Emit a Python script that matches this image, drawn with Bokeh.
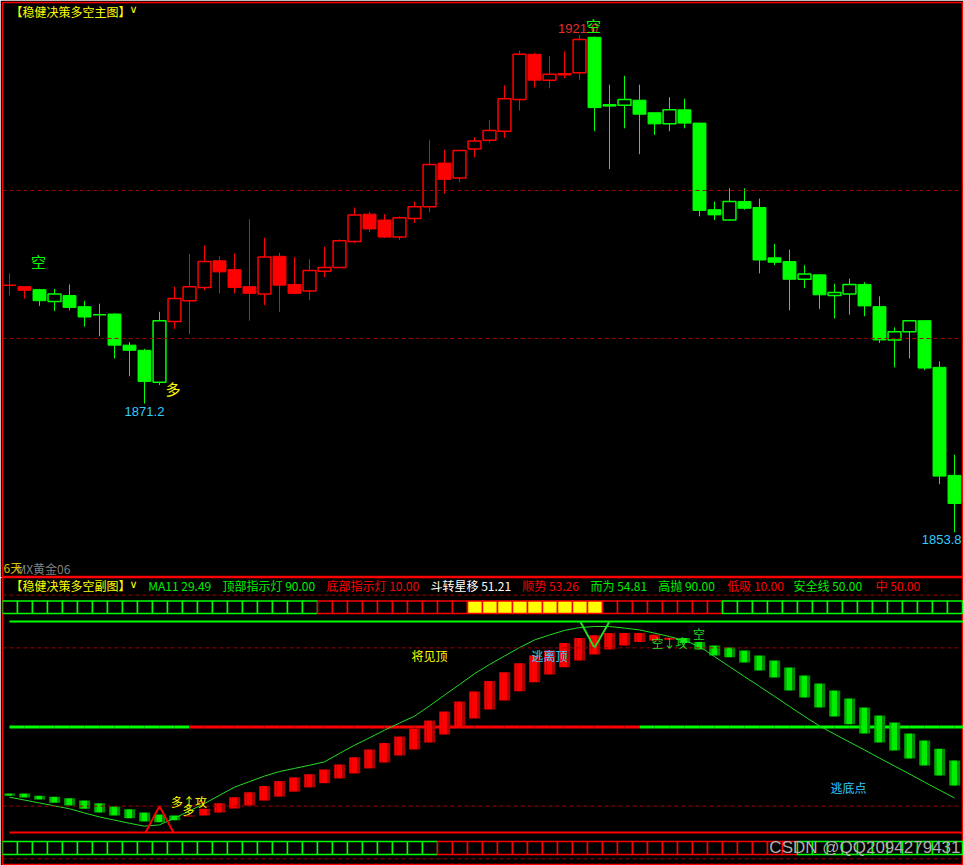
from bokeh.plotting import figure
from bokeh.layouts import column
from bokeh.models import Range1d, ColumnDataSource, Label, Span
from bokeh.embed import file_html
from bokeh.resources import INLINE

CJK = "Noto Sans CJK SC"
LAT = "Liberation Sans"

# ---------------- price bars (one per session) ----------------
opens = [1887.2, 1887.0, 1886.6, 1885.0, 1885.8, 1884.3, 1883.2, 1883.3, 1879.1, 1878.4,
         1874.1, 1882.3, 1885.1, 1886.9, 1890.5, 1889.3, 1887.0, 1886.0, 1891.1, 1887.3,
         1886.4, 1889.1, 1889.6, 1893.1, 1896.8, 1896.0, 1893.7, 1896.2, 1897.8, 1903.7,
         1901.7, 1905.6, 1906.8, 1908.0, 1912.3, 1918.4, 1914.9, 1915.8, 1915.9, 1920.7,
         1911.6, 1911.5, 1912.2, 1910.5, 1909.0, 1910.9, 1909.1, 1897.4, 1896.0, 1898.5,
         1897.7, 1890.9, 1890.4, 1888.0, 1888.6, 1885.8, 1886.0, 1887.3, 1884.3, 1879.8,
         1880.9, 1882.4, 1876.1, 1861.5]
highs = [1888.8, 1887.0, 1886.7, 1886.7, 1887.3, 1885.1, 1884.7, 1883.4, 1879.5, 1878.6,
         1883.6, 1887.0, 1891.4, 1892.6, 1891.1, 1891.5, 1896.1, 1893.6, 1891.6, 1891.0,
         1890.7, 1892.4, 1893.4, 1897.7, 1897.1, 1896.8, 1896.5, 1898.5, 1906.8, 1905.5,
         1905.5, 1907.2, 1909.5, 1914.2, 1918.9, 1918.6, 1918.2, 1918.8, 1921.0, 1920.8,
         1914.3, 1915.5, 1914.3, 1910.5, 1912.6, 1912.4, 1909.1, 1898.5, 1900.3, 1900.3,
         1898.9, 1892.8, 1892.0, 1889.9, 1888.7, 1887.4, 1888.1, 1887.6, 1885.7, 1881.5,
         1882.4, 1882.4, 1876.9, 1864.3]
lows = [1885.8, 1885.4, 1884.4, 1883.7, 1883.8, 1881.6, 1880.3, 1877.3, 1874.9, 1871.2,
        1873.7, 1881.3, 1880.6, 1886.5, 1886.1, 1886.1, 1882.4, 1884.5, 1883.6, 1886.0,
        1885.2, 1888.3, 1889.5, 1892.9, 1894.4, 1893.6, 1893.3, 1895.6, 1897.1, 1899.6,
        1901.1, 1904.5, 1906.5, 1907.1, 1910.8, 1913.9, 1913.8, 1915.2, 1914.9, 1908.0,
        1902.9, 1908.4, 1904.9, 1907.5, 1908.0, 1908.4, 1896.5, 1896.0, 1895.9, 1897.4,
        1888.8, 1889.9, 1883.8, 1886.8, 1884.0, 1882.7, 1883.2, 1883.0, 1879.4, 1876.1,
        1877.3, 1875.7, 1860.3, 1853.8]
closes = [1887.2, 1886.5, 1885.1, 1886.0, 1884.2, 1882.9, 1883.2, 1879.1, 1878.4, 1874.2,
          1882.4, 1885.4, 1887.0, 1890.4, 1889.0, 1886.9, 1886.1, 1891.0, 1887.2, 1886.1,
          1889.2, 1889.6, 1893.2, 1896.7, 1894.8, 1893.7, 1896.3, 1897.8, 1903.5, 1901.5,
          1905.4, 1906.7, 1908.1, 1912.4, 1918.4, 1914.9, 1915.7, 1915.6, 1920.4, 1911.2,
          1911.4, 1912.3, 1910.3, 1909.0, 1910.9, 1909.1, 1897.3, 1896.7, 1898.5, 1897.6,
          1890.6, 1890.3, 1888.0, 1888.7, 1885.9, 1886.2, 1887.3, 1884.4, 1879.8, 1880.9,
          1882.4, 1876.0, 1861.4, 1857.7]
# trend state that colours each bar: R = long, G = short
bar_trend = list("RRGGGGGGGGG" + "R" * 28 + "G" * 25)

# ---------------- oscillator panel ----------------
osc_fast = [23.9, 23.3, 22.5, 21.3, 20.2, 19.0, 17.6, 16.4, 15.4, 14.2, 13.9, 14.6, 16.4, 19.0,
            21.1, 23.4, 25.3, 27.6, 29.5, 30.9, 32.1, 33.9, 35.8, 38.5, 41.5, 43.9, 46.4, 49.3,
            52.5, 55.9, 59.7, 63.5, 67.4, 70.8, 74.2, 77.1, 79.0, 81.8, 83.7, 84.8, 85.6, 85.6,
            85.6, 85.0, 83.8, 81.8, 79.4, 77.1, 76.4, 74.5, 71.4, 68.8, 63.8, 61.2, 57.4, 54.0,
            51.0, 47.5, 44.1, 41.1, 38.1, 35.4, 31.6, 27.8]
osc_slow = [24.8, 24.8, 23.9, 23.6, 23.0, 22.1, 21.1, 19.9, 18.8, 17.6, 16.8, 16.4, 16.1, 16.4,
            17.6, 19.1, 20.2, 22.1, 23.6, 25.5, 27.1, 28.7, 30.5, 32.4, 34.3, 36.5, 39.2, 41.5,
            44.1, 47.2, 50.2, 53.2, 56.6, 60.0, 63.6, 67.0, 69.9, 72.7, 75.2, 77.5, 79.4, 80.9,
            82.2, 82.8, 83.1, 83.7, 82.2, 80.9, 80.1, 79.0, 77.1, 75.2, 72.6, 69.5, 66.5, 63.8,
            60.8, 57.4, 54.4, 51.7, 47.5, 44.9, 41.8, 37.3]
ma11 = [23.4, 22.3, 21.2, 20.1, 19.0, 17.4, 15.9, 14.7, 13.5, 12.4, 12.9, 15.4, 18.2, 21.0,
        24.1, 27.2, 29.3, 31.4, 33.1, 34.3, 35.5, 36.8, 40.0, 43.1, 45.9, 48.8, 51.5, 54.1,
        58.0, 62.1, 66.1, 70.2, 73.7, 76.9, 80.1, 83.0, 84.9, 86.6, 87.7, 88.1, 88.1, 87.5,
        86.8, 85.6, 84.3, 82.8, 80.5, 76.7, 72.9, 69.1, 65.4, 61.6, 57.8, 54.0, 50.4, 47.3,
        44.3, 41.3, 38.2, 35.2, 32.2, 29.1, 26.1, 23.1]
mid_state = list("G" * 12 + "R" * 30 + "G" * 22)          # colour of the 50 line
top_lamp = list("G" * 21 + "R" * 10 + "Y" * 9 + "R" * 8 + "G" * 16)
bottom_lamp = list("G" * 29 + "R" * 24 + "G" * 11)
levels_solid = {"top": 90, "bottom": 10, "mid": 50}
levels_dashed = [100, 80, 20, 0]
top_lamp_band = (93.0, 97.8)
bottom_lamp_band = (1.7, 6.6)
sell_signal = {"i": 39, "from": 90, "to": 80}
buy_signal = {"i": 10, "from": 10, "to": 20}

n = len(opens)
idx = list(range(n))
X_RANGE = (-0.4667, 63.6)

RED, GREEN, YELLOW = "#ff0000", "#00ff00", "#ffff00"
DASH_RED = "#a00000"
CYAN = "#33ccff"


def base_fig(h, yr, top_border):
    f = figure(width=963, height=h, x_range=Range1d(*X_RANGE), y_range=Range1d(*yr),
               output_backend="svg", toolbar_location=None,
               x_axis_location=None, y_axis_location=None,
               min_border_left=2, min_border_right=0, min_border_top=top_border,
               min_border_bottom=0, background_fill_color="black",
               border_fill_color="black", outline_line_color=RED, outline_line_width=1.5)
    f.grid.visible = False
    return f


def px(x):
    return (x - 9) / 15.0


def label(f, x, y, text, color, size="12px", font=CJK, align="left", base="middle"):
    f.add_layout(Label(x=x, y=y, text=text, text_color=color, text_font=font,
                       text_font_size=size, text_align=align, text_baseline=base))


# ================= main price panel =================
p = base_fig(577, (1847.70, 1925.40), 2)
for lvl in (1900, 1880):
    p.add_layout(Span(location=lvl, dimension="width", line_color=DASH_RED,
                      line_dash="4 3", line_width=1))

col = [RED if t == "R" else GREEN for t in bar_trend]
p.segment(x0=idx, y0=lows, x1=idx, y1=highs, line_color=col, line_width=1)

hollow = dict(left=[], right=[], top=[], bottom=[], color=[])
solid = dict(left=[], right=[], top=[], bottom=[], color=[])
for i in idx:
    d = hollow if closes[i] >= opens[i] else solid
    d["left"].append(i - 0.43)
    d["right"].append(i + 0.43)
    d["top"].append(max(opens[i], closes[i]))
    d["bottom"].append(min(opens[i], closes[i]))
    d["color"].append(col[i])
p.quad(left="left", right="right", top="top", bottom="bottom", fill_color="black",
       line_color="color", line_width=1.5, source=ColumnDataSource(hollow))
p.quad(left="left", right="right", top="top", bottom="bottom", fill_color="color",
       line_color="color", line_width=1, source=ColumnDataSource(solid))

label(p, px(10), 1924.2, "【稳健决策多空主图】", YELLOW)
label(p, px(129), 1924.4, "∨", YELLOW, size="11px", font="DejaVu Sans")
label(p, 1.93, 1890.4, "空", GREEN, size="15px", align="center")
label(p, 10.9, 1873.2, "多", YELLOW, size="15px", align="center")
label(p, 9, 1870.1, f"{lows[9]:.1f}", CYAN, size="13px", font=LAT, align="center")
label(p, 37.9, 1921.9, f"{highs[38]:.1f}", "#e03030", size="13px", font=LAT, align="center")
label(p, 38.93, 1922.3, "空", GREEN, size="15px", align="center")
label(p, px(961), 1852.8, f"{lows[63]:.1f}", CYAN, size="13px", font=LAT, align="right")
label(p, px(16), 1848.9, "MX黄金06", "#808080", size="12px")
label(p, px(3), 1849.0, "6天", "#e0c000", size="12px")

# ================= oscillator panel =================
s = base_fig(288, (-2.51, 106.68), 0)
for lvl in levels_dashed:
    s.add_layout(Span(location=lvl, dimension="width", line_color=DASH_RED,
                      line_dash="4 3", line_width=1))

xs_end = idx[-1] + 1
s.segment(x0=[idx[0]], y0=[levels_solid["top"]], x1=[xs_end], y1=[levels_solid["top"]],
          line_color=GREEN, line_width=2)
s.segment(x0=[idx[0]], y0=[levels_solid["bottom"]], x1=[xs_end], y1=[levels_solid["bottom"]],
          line_color=RED, line_width=2)
s.segment(x0=idx, y0=[levels_solid["mid"]] * n, x1=[i + 1 for i in idx],
          y1=[levels_solid["mid"]] * n,
          line_color=[RED if m == "R" else GREEN for m in mid_state], line_width=3)

# indicator lamps
for band, states in ((top_lamp_band, top_lamp), (bottom_lamp_band, bottom_lamp)):
    lc = [GREEN if t == "G" else RED for t in states]
    fc = [YELLOW if t == "Y" else "black" for t in states]
    s.quad(left=[i - 0.4667 for i in idx], right=[i + 0.5333 for i in idx],
           bottom=[band[0]] * n, top=[band[1]] * n, fill_color=fc, line_color=lc,
           line_width=1.5)

# momentum bars with a shaded right edge
bar_top = [max(a, b) for a, b in zip(osc_fast, osc_slow)]
bar_bot = [min(a, b) for a, b in zip(osc_fast, osc_slow)]
up = [a >= b for a, b in zip(osc_fast, osc_slow)]
bright = ["#ff0000" if u else "#00ee00" for u in up]
dark = ["#b00000" if u else "#008c00" for u in up]
edge = ["#ff0000" if u else "#00b400" for u in up]
s.quad(left=[i - 0.35 for i in idx], right=[i - 0.22 for i in idx], top=bar_top,
       bottom=bar_bot, fill_color=edge, line_color=None)
s.quad(left=[i - 0.22 for i in idx], right=[i + 0.17 for i in idx], top=bar_top,
       bottom=bar_bot, fill_color=bright, line_color=None)
s.quad(left=[i + 0.17 for i in idx], right=[i + 0.38 for i in idx], top=bar_top,
       bottom=bar_bot, fill_color=dark, line_color=None)

s.line(x=idx, y=ma11, line_color="#22dd22", line_width=1)

# buy / sell markers
bi = buy_signal["i"]
s.line(x=[bi - 0.93, bi, bi + 0.93], y=[buy_signal["from"], buy_signal["to"], buy_signal["from"]],
       line_color=RED, line_width=2)
si = sell_signal["i"]
s.line(x=[si - 0.95, si, si + 1.0], y=[sell_signal["from"], sell_signal["to"], sell_signal["from"]],
       line_color="#22dd22", line_width=2)

# header line
hy = 103.65
label(s, px(10), hy, "【稳健决策多空副图】", YELLOW)
label(s, px(129), hy + 0.2, "∨", YELLOW, size="11px", font="DejaVu Sans")
header = [(147.7, "MA11 29.49", "#00ee00"), (222, "顶部指示灯 90.00", "#00ee00"),
          (326, "底部指示灯 10.00", RED), (430, "斗转星移 51.21", "#ffffff"),
          (521.7, "顺势 53.26", RED), (590, "而为 54.81", "#00ee00"),
          (657.7, "高抛 90.00", "#00ee00"), (726.7, "低吸 10.00", RED),
          (793, "安全线 50.00", "#00ee00"), (875, "中 50.00", RED)]
for x0, t, c in header:
    label(s, px(x0), hy, t, c)

label(s, 28.0, 77.1, "将见顶", YELLOW, align="center")
label(s, 36.0, 77.1, "逃离顶", CYAN, align="center")
label(s, 44.0, 82.2, "空↓攻", "#22dd22", align="center")
label(s, 45.97, 85.6, "空", "#22dd22", align="center")
label(s, 11.96, 21.8, "多↑攻", YELLOW, align="center")
label(s, 11.93, 18.6, "多", YELLOW, align="center")
label(s, 55.93, 27.1, "逃底点", CYAN, align="center")
label(s, px(960), 4.4, "CSDN @QQ2094279431", "#b0b0b0", size="17px", font=LAT,
      align="right")

layout = column(p, s, spacing=0)
open("out.html", "w").write(file_html(layout, INLINE))
